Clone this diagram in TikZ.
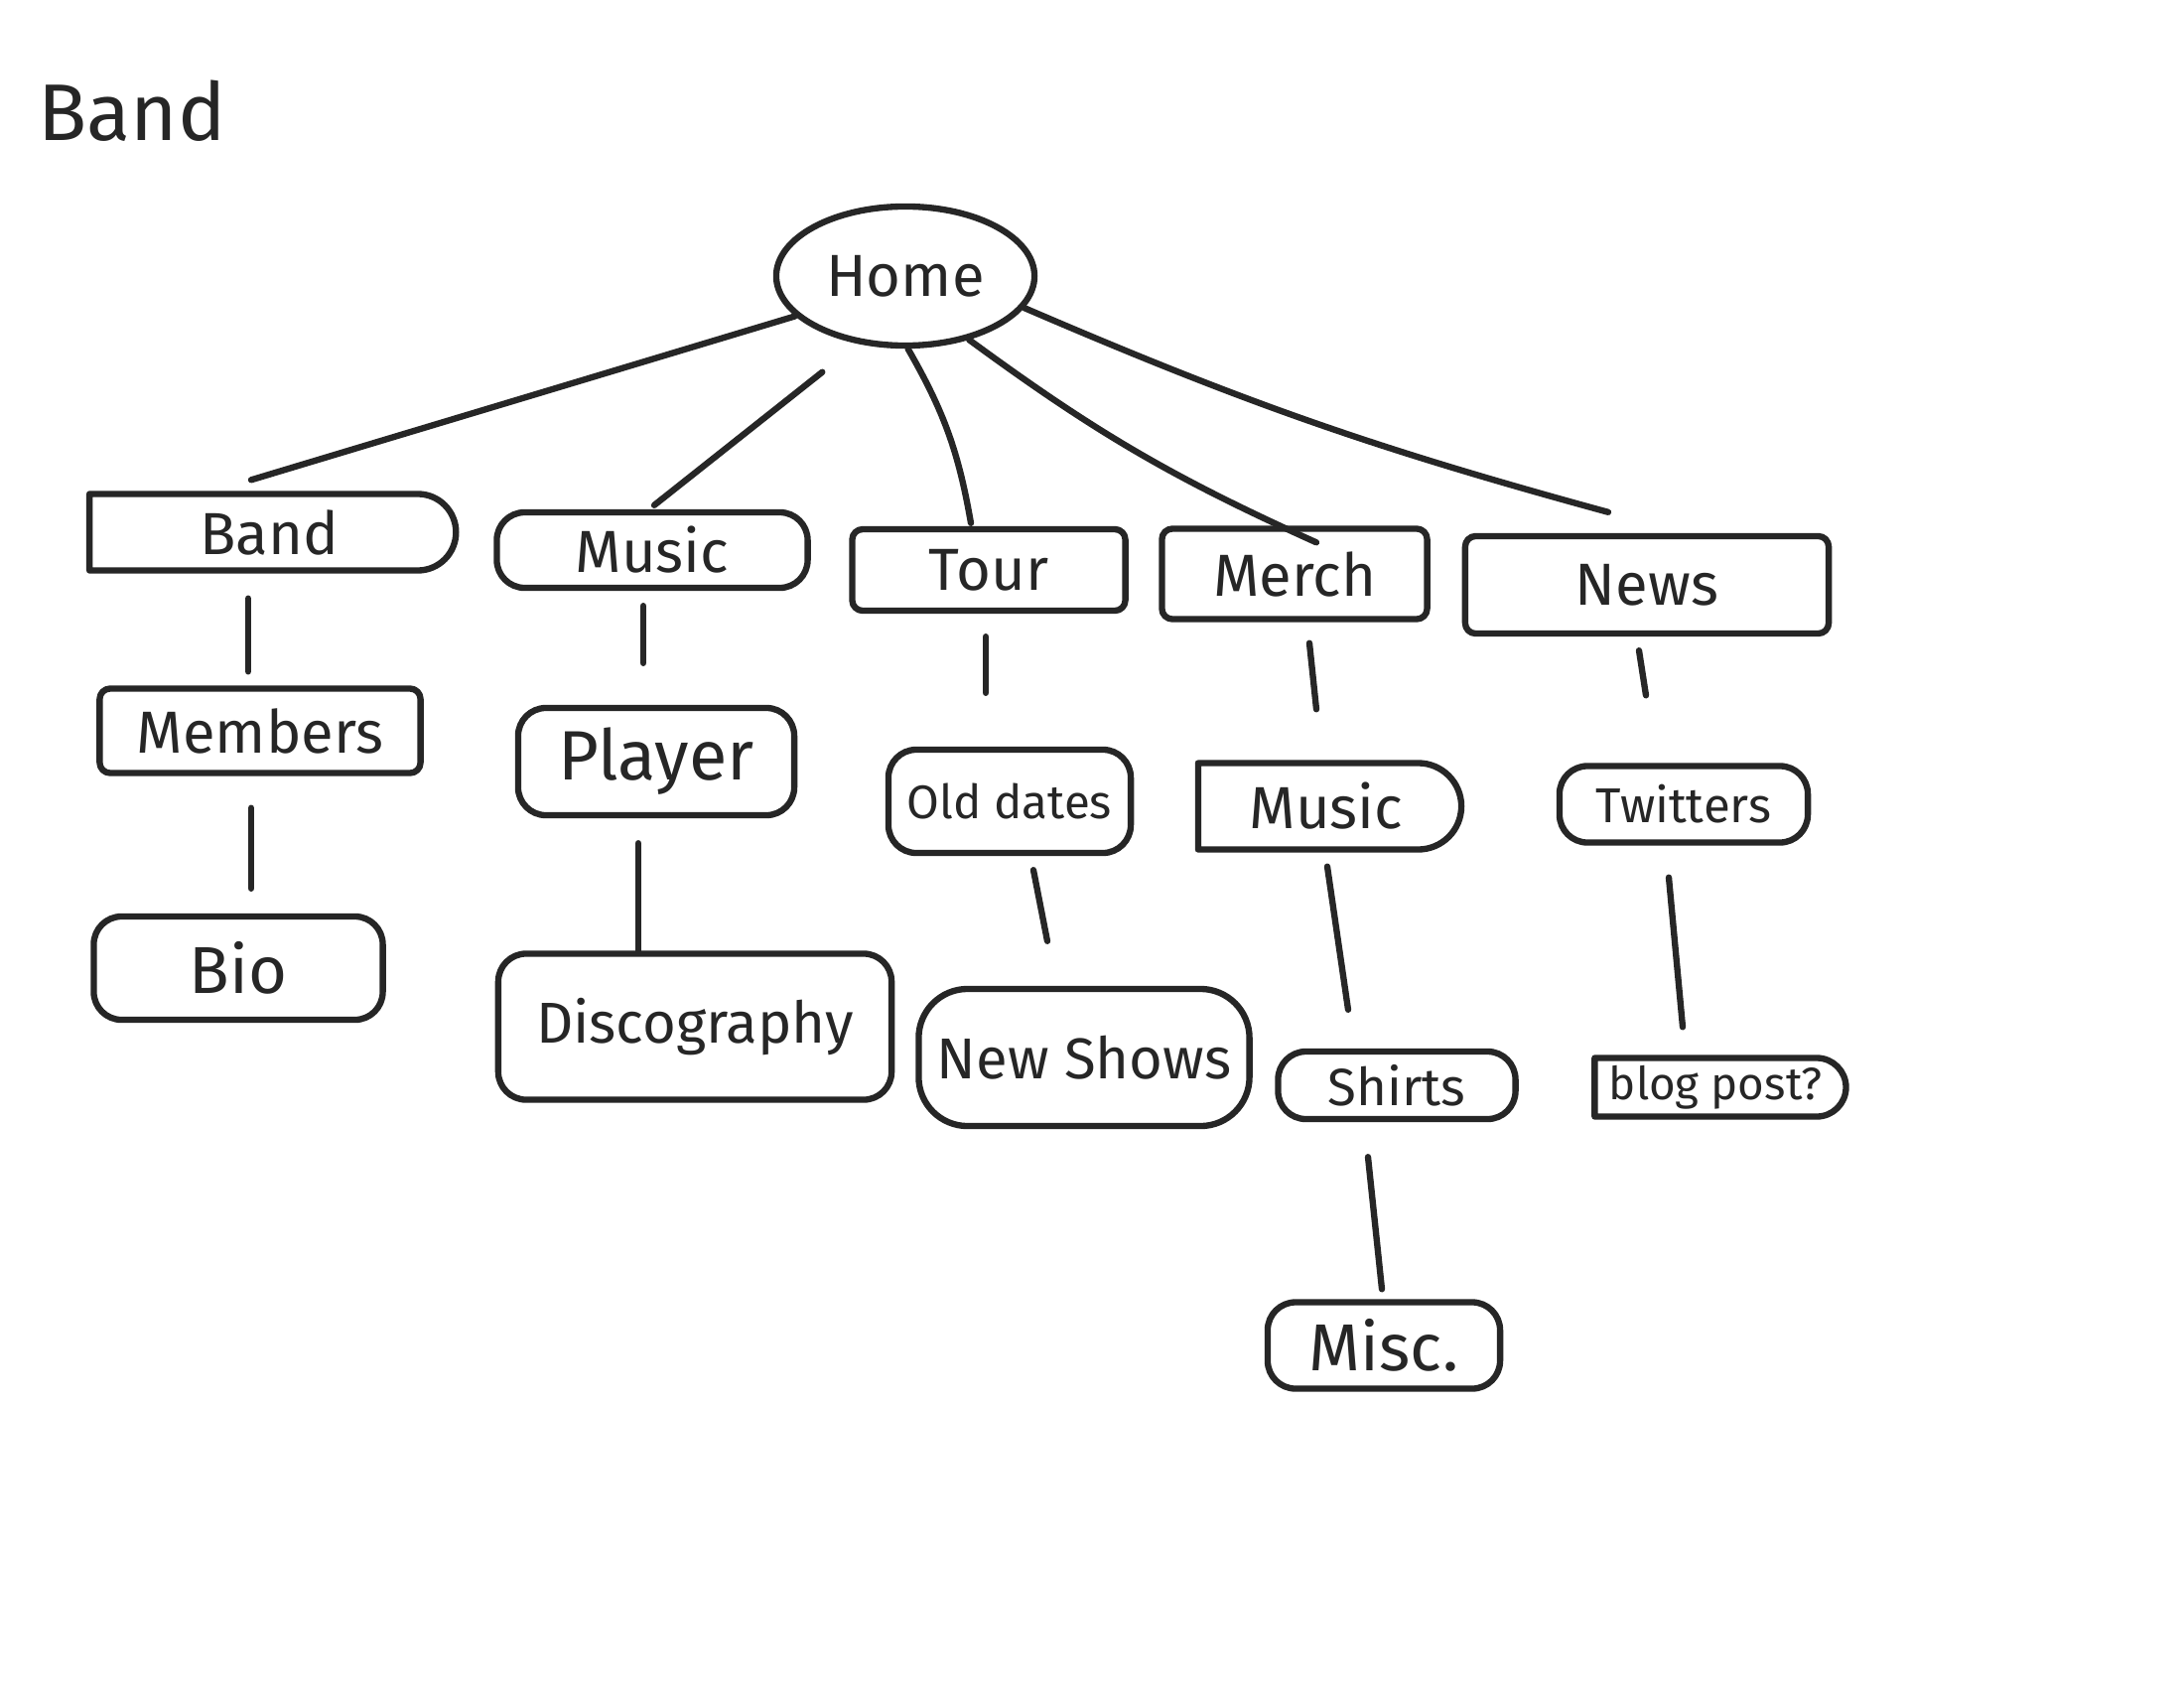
\documentclass[tikz,border=0pt]{standalone}
\usepackage{fontspec}
\setmainfont{Fira Sans}
\usetikzlibrary{shapes.geometric,shapes.misc,calc}
\begin{document}
\begin{tikzpicture}[x=0.01cm,y=-0.01cm,
  ink/.style={line width=1.8pt, draw=black!85, line cap=round, line join=round},
  box/.style={ink, rectangle, rounded corners=3pt, inner sep=0pt, text=black!85, font=\fontsize{17}{20}\selectfont},
  pill/.style={ink, rounded rectangle, rounded rectangle left arc=none, inner sep=0pt, text=black!85, font=\fontsize{17}{20}\selectfont},
  link/.style={ink}]
\useasboundingbox (0,0) rectangle (2200,1700);
\fill[white] (0,0) rectangle (2200,1700);

\node[text=black!85, font=\fontsize{23}{27}\selectfont] (title) at (133,112) {Band};

\node[ink, ellipse, minimum width=2.6cm, minimum height=1.4cm, inner sep=0pt, text=black!85, font=\fontsize{17}{20}\selectfont] (home) at (912,278) {Home};

% top row
\node[pill, minimum width=3.69cm, minimum height=0.77cm] (band) at (271,536) {Band};
\node[box, rounded corners=8pt, minimum width=3.13cm, minimum height=0.76cm] (music) at (657,554) {Music};
\node[box, minimum width=2.75cm, minimum height=0.82cm] (tour) at (996,574) {Tour};
\node[box, minimum width=2.67cm, minimum height=0.91cm] (merch) at (1304,578) {Merch};
\node[box, minimum width=3.66cm, minimum height=0.98cm] (news) at (1659,589) {News};

% second row
\node[box, minimum width=3.23cm, minimum height=0.85cm] (members) at (262,736) {Members};
\node[box, rounded corners=8pt, minimum width=2.78cm, minimum height=1.08cm, font=\fontsize{20}{24}\selectfont] (player) at (661,767) {Player};
\node[box, rounded corners=8pt, minimum width=2.44cm, minimum height=1.04cm, font=\fontsize{13.5}{16}\selectfont] (olddates) at (1017,807) {Old dates};
\node[pill, minimum width=2.65cm, minimum height=0.87cm] (music2) at (1336,812) {Music};
\node[box, rounded corners=8pt, minimum width=2.5cm, minimum height=0.77cm, font=\fontsize{14}{17}\selectfont] (twitters) at (1696,810) {Twitters};

% third row
\node[box, rounded corners=8pt, minimum width=2.91cm, minimum height=1.04cm, font=\fontsize{19}{23}\selectfont] (bio) at (240,975) {Bio};
\node[box, rounded corners=8pt, minimum width=3.96cm, minimum height=1.47cm, font=\fontsize{16.5}{20}\selectfont] (disco) at (700,1034) {Discography};
\node[box, rounded corners=14pt, minimum width=3.33cm, minimum height=1.38cm, font=\fontsize{16.5}{20}\selectfont] (newshows) at (1092,1065) {New Shows};
\node[box, rounded corners=8pt, minimum width=2.39cm, minimum height=0.68cm, font=\fontsize{15}{18}\selectfont] (shirts) at (1407,1093) {Shirts};
\node[pill, minimum width=2.53cm, minimum height=0.59cm, font=\fontsize{13}{16}\selectfont] (blog) at (1728,1095) {blog post?};

% fourth row
\node[box, rounded corners=8pt, minimum width=2.34cm, minimum height=0.87cm, font=\fontsize{19}{23}\selectfont] (misc) at (1394,1355) {Misc.};

% connectors from Home
\draw[link] (home.200) -- ($(band.north)+(-18,-11)$);
\draw[link, shorten <=13pt] (home.-125) -- ($(music.north)+(2,-4)$);
\draw[link] (home.-88) to[bend left=10] ($(tour.north)+(-18,-3)$);
\draw[link] (home.-45) to[bend right=6] ($(merch.north)+(22,17)$);
\draw[link] (home.-15) to[bend right=4] ($(news.north)+(-39,-21)$);

% vertical connectors
\draw[link] ($(band.south)+(-21,25)$) -- ($(members.north)+(-12,-14)$);
\draw[link] ($(members.south)+(-9,32)$) -- ($(bio.north)+(13,-25)$);
\draw[link] ($(music.south)+(-9,15)$) -- ($(player.north)+(-13,-42)$);
\draw[link] ($(player.south)+(-18,25)$) -- ($(disco.north)+(-57,0)$);
\draw[link] ($(tour.south)+(-3,23)$) -- ($(olddates.north)+(-24,-54)$);
\draw[link] ($(olddates.south)+(24,14)$) -- ($(newshows.north)+(-37,-45)$);
\draw[link] ($(merch.south)+(15,21)$) -- ($(music2.north)+(-10,-51)$);
\draw[link] ($(music2.south)+(1,14)$) -- ($(shirts.north)+(-49,-39)$);
\draw[link] ($(shirts.south)+(-29,35)$) -- ($(misc.north)+(-2,-10)$);
\draw[link] ($(news.south)+(-8,14)$) -- ($(twitters.north)+(-38,-68)$);
\draw[link] ($(twitters.south)+(-15,32)$) -- ($(blog.north)+(-33,-28)$);
\end{tikzpicture}
\end{document}
